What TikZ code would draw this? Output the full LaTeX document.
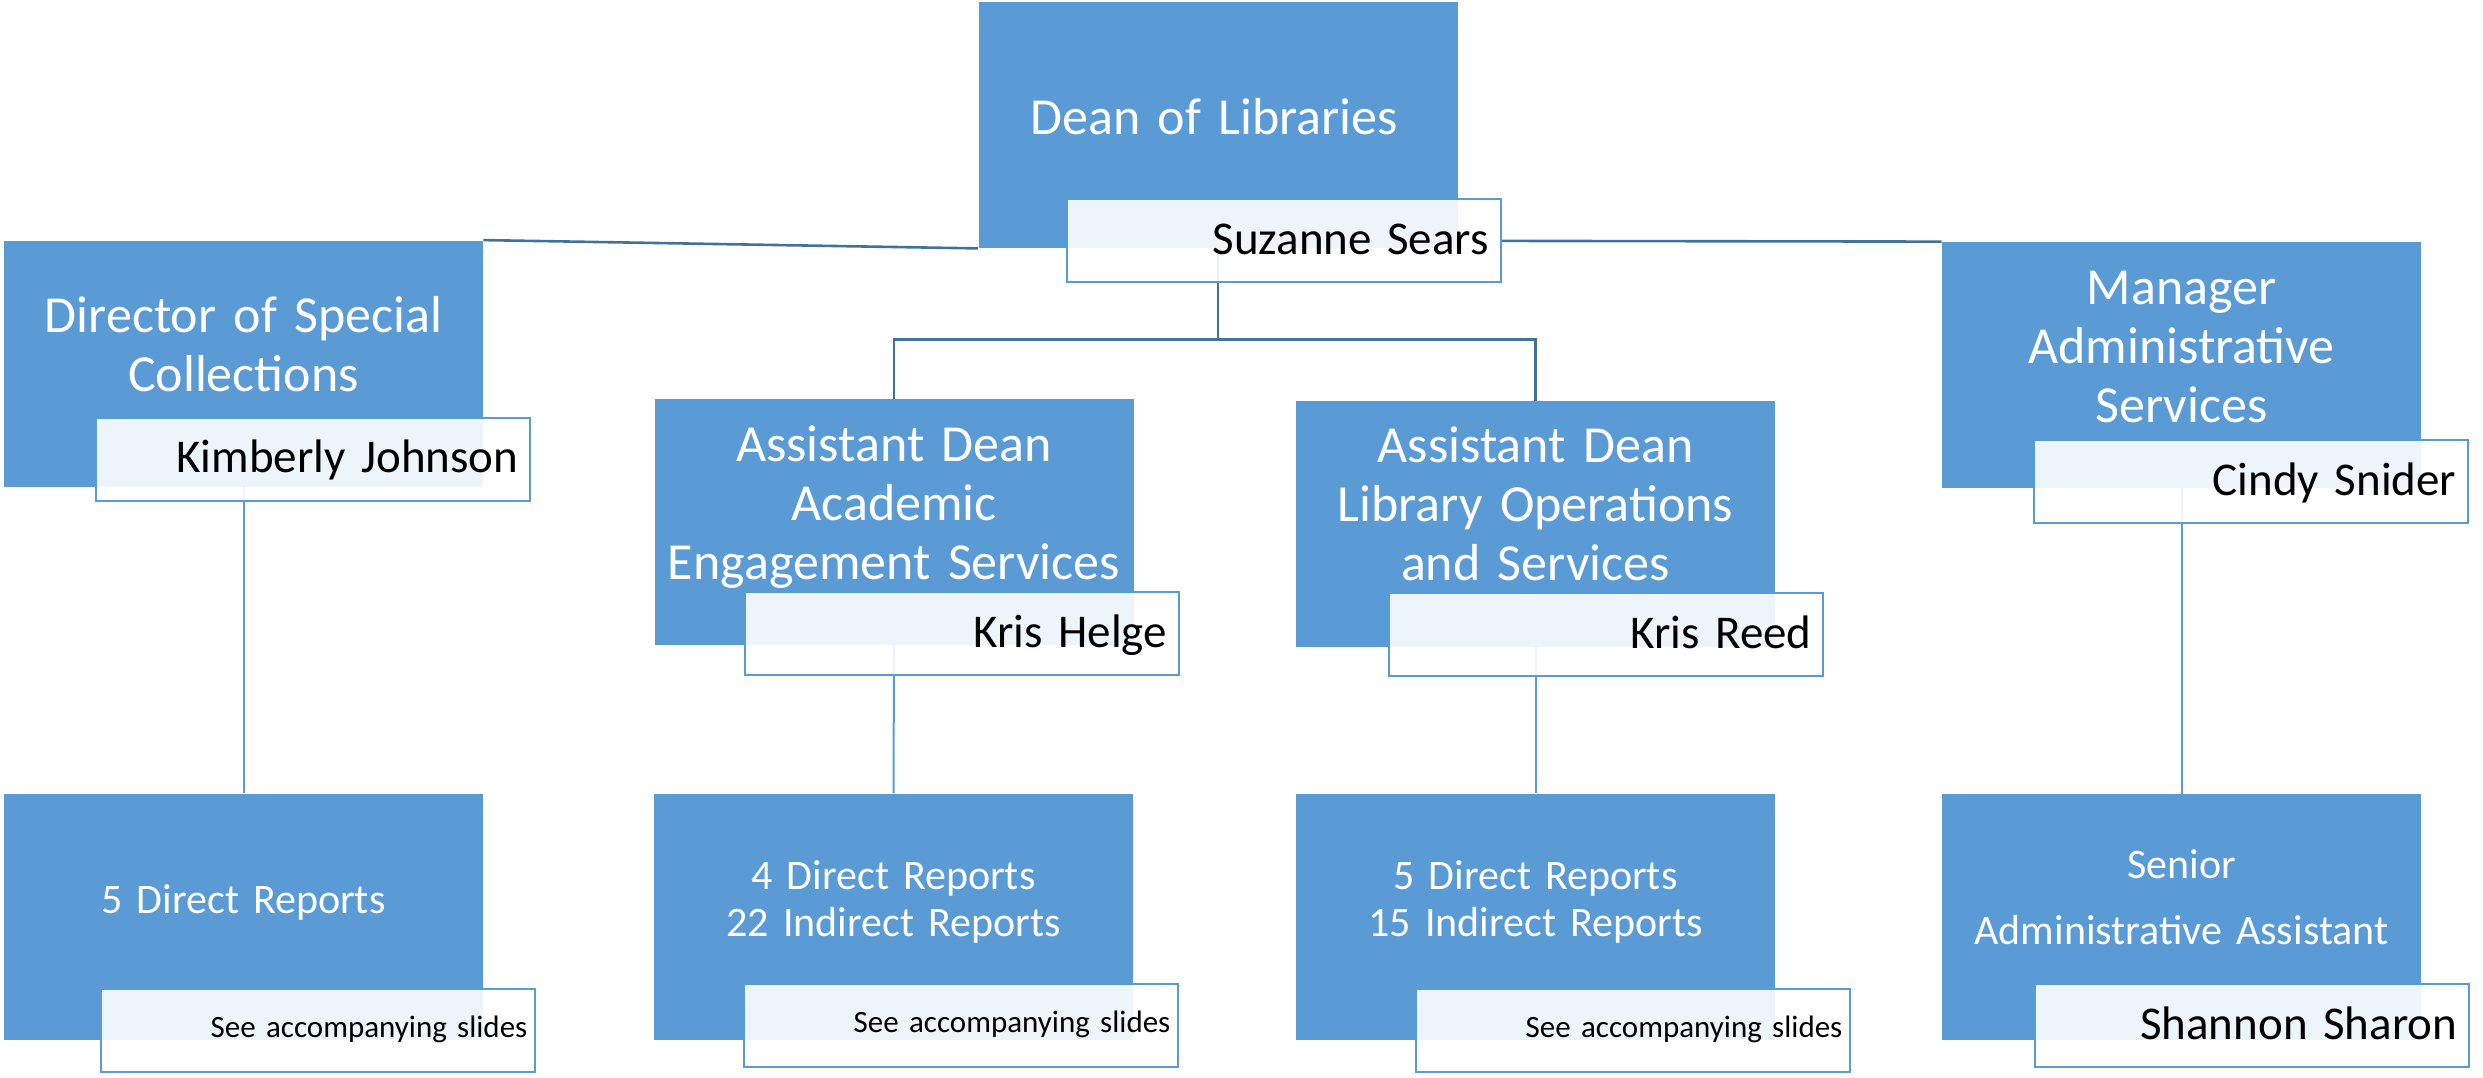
\documentclass[tikz,border=0pt]{standalone}
\usepackage{fontspec}
\setmainfont{Carlito}
\usepackage{tikz}
\usetikzlibrary{positioning,backgrounds}
\definecolor{postblue}{HTML}{5B9BD5}
\definecolor{linkblue}{HTML}{41719C}
\tikzset{
  post/.style={
    shape=rectangle,
    minimum width=239.5pt,
    minimum height=123pt,
    inner sep=0pt,
    fill=postblue
  },
  title/.style={
    text width=239pt,
    align=center,
    text=white,
    inner sep=0pt,
    anchor=base,
    font=\fontsize{26}{29.5}\selectfont
  },
  reports/.style={
    title,
    font=\fontsize{21}{23.5}\selectfont
  },
  namebox/.style={
    shape=rectangle,
    minimum width=217pt,
    minimum height=41.5pt,
    inner sep=0pt,
    anchor=south east,
    draw=postblue,
    line width=1pt,
    fill=white,
    fill opacity=0.9,
    text opacity=1,
    text width=205pt,
    align=right,
    text height=16pt,
    text depth=2.5pt,
    font=\fontsize{23.5}{27}\selectfont
  },
  slidebox/.style={
    namebox,
    text width=209pt,
    text height=10pt,
    text depth=2.5pt,
    font=\fontsize{15.5}{18}\selectfont
  },
  toplink/.style={draw=linkblue, line width=1.3pt},
  sublink/.style={draw=postblue, line width=1pt}
}
\begin{document}
\begin{tikzpicture}[x=0.5pt,y=-0.5pt]
  \useasboundingbox (0,0) rectangle (2483,1077);
  \node[post] (dean) at (1218,125) {};
  \node[post] (dir) at (243.5,363.5) {};
  \node[post] (mgr) at (2181.5,365) {};
  \node[post] (acad) at (894,522) {};
  \node[post] (lib) at (1535.5,524) {};
  \node[post] (dirR) at (243.5,916.5) {};
  \node[post] (acadR) at (893.5,916.5) {};
  \node[post] (libR) at (1535.5,916.5) {};
  \node[post] (mgrR) at (2181.5,917) {};
  \node[title] (deanT) at ([shift={(-4,133)}]dean.north) {Dean of Libraries};
  \node[title] (dirT) at ([shift={(0,92)}]dir.north) {Director of Special\\Collections};
  \node[title] (mgrT) at ([shift={(0,63)}]mgr.north) {Manager\\Administrative\\Services};
  \node[title] (acadT) at ([shift={(0,63)}]acad.north) {Assistant Dean\\Academic\\Engagement Services};
  \node[title] (libT) at ([shift={(0,62)}]lib.north) {Assistant Dean\\Library Operations\\and Services};
  \node[reports] (dirRT) at ([shift={(0,120)}]dirR.north) {5 Direct Reports};
  \node[reports] (acadRT) at ([shift={(0,96)}]acadR.north) {4 Direct Reports\\22 Indirect Reports};
  \node[reports] (libRT) at ([shift={(0,96)}]libR.north) {5 Direct Reports\\15 Indirect Reports};
  \node[reports] (mgrRT) at ([shift={(0,85)}]mgrR.north) {Senior\\[9.5pt]Administrative Assistant};
  \node[namebox] (deanN) at ([shift={(44,35)}]dean.south east) {Suzanne Sears};
  \node[namebox] (dirN) at ([shift={(48,15)}]dir.south east) {Kimberly Johnson};
  \node[namebox] (mgrN) at ([shift={(48,36)}]mgr.south east) {Cindy Snider};
  \node[namebox] (acadN) at ([shift={(46,31)}]acad.south east) {Kris Helge};
  \node[namebox] (libN) at ([shift={(49,30)}]lib.south east) {Kris Reed};
  \node[slidebox] (dirRN) at ([shift={(53,33)}]dirR.south east) {See accompanying slides};
  \node[slidebox] (acadRN) at ([shift={(46,28)}]acadR.south east) {See accompanying slides};
  \node[slidebox] (libRN) at ([shift={(76,33)}]libR.south east) {See accompanying slides};
  \node[namebox] (mgrRN) at ([shift={(49,28)}]mgrR.south east) {Shannon Sharon};
  \begin{scope}[on background layer]
    \draw[toplink] (dir.north east) -- (dean.south west);
    \draw[toplink] (deanN.east) -- (mgr.north west);
    \draw[toplink] (dean.south) -- ++(0,91) -| (acad.north);
    \draw[toplink] (dean.south) -- ++(0,91) -| (lib.north);
    \draw[sublink] (dir.south) -- (dirR.north);
    \draw[sublink] (acad.south) -- (acadR.north);
    \draw[sublink] (lib.south) -- (libR.north);
    \draw[sublink] (mgr.south) -- (mgrR.north);
  \end{scope}
\end{tikzpicture}
\end{document}
